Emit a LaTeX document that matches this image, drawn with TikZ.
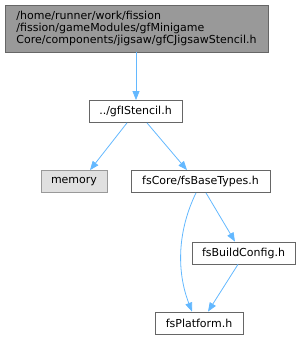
\documentclass[tikz,border=0pt]{standalone}
\usepackage{fontspec}
\setmainfont{DejaVu Sans}
\usetikzlibrary{arrows.meta,positioning,calc}
\definecolor{edgeblue}{RGB}{99,184,255}
\definecolor{boxline}{RGB}{102,102,102}
\definecolor{mainfill}{RGB}{153,153,153}
\definecolor{sysfill}{RGB}{224,224,224}
\definecolor{sysline}{RGB}{153,153,153}

\begin{document}
\begin{tikzpicture}[x=1pt, y=-1pt,
  hdr/.style={rectangle, draw=boxline, fill=white, line width=0.8pt,
              minimum height=22pt, inner sep=0pt, font=\fontsize{11}{13}\selectfont},
  mainhdr/.style={hdr, fill=mainfill, align=left, minimum width=263pt,
                  minimum height=47pt, font=\fontsize{11}{12}\selectfont},
  syshdr/.style={hdr, draw=sysline, fill=sysfill},
  arr/.style={-{Triangle[length=9pt,width=7pt]}, edgeblue, line width=0.8pt}
]
  \useasboundingbox (0,0) rectangle (302,340);

  \node[mainhdr] (jig) at (136.5,28.5)
        {/home/runner/work/fission\\/fission/gameModules/gfMinigame\\Core/components/jigsaw/gfCJigsawStencil.h};
  \node[hdr, minimum width=93pt] (sten) at (135.5,111.5) {../gfIStencil.h};
  \node[syshdr, minimum width=66pt] (mem) at (74,181.5) {memory};
  \node[hdr, minimum width=139pt] (base) at (200.5,181.5) {fsCore/fsBaseTypes.h};
  \node[hdr, minimum width=103pt] (build) at (243.5,253) {fsBuildConfig.h};
  \node[hdr, minimum width=88pt] (plat) at (199,323) {fsPlatform.h};

  \draw[arr] (jig.south -| 136,0) -- (sten.north -| 136,0);
  \draw[arr] ([xshift=-8.5pt]sten.south) -- ([xshift=16pt]mem.north);
  \draw[arr] ([xshift=11.5pt]sten.south) -- ([xshift=-13.5pt]base.north);
  \draw[arr] ([xshift=-4.5pt]base.south) .. controls (178,230) and (176,270)
             .. ([xshift=-7pt]plat.north);
  \draw[arr] ([xshift=5.5pt]base.south) -- ([xshift=-8.5pt]build.north);
  \draw[arr] ([xshift=-5.5pt]build.south) -- ([xshift=9pt]plat.north);
\end{tikzpicture}
\end{document}
